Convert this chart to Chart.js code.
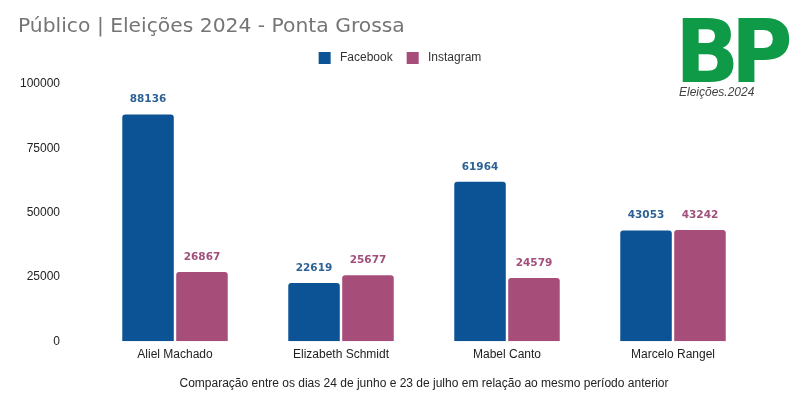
<!DOCTYPE html>
<html>
<head>
<meta charset="utf-8">
<script src="https://cdn.jsdelivr.net/npm/chart.js@4.4.1/dist/chart.umd.min.js"></script>
<style>
  html, body { margin: 0; padding: 0; background: #fff; }
  #wrap { position: relative; width: 804px; height: 407px; overflow: hidden; }
  #c { position: absolute; left: 0; top: 0; }
  #title { position: absolute; left: 18px; top: 13px; font-family: "DejaVu Sans", sans-serif; font-size: 20.3px; color: #757575; white-space: nowrap; }
  #logo { position: absolute; left: 675px; top: 8px; width: 129px; height: 95px; }
  #logoBP { position: absolute; left: 0; top: 0; font-family: "DejaVu Sans", sans-serif; font-weight: bold; font-size: 88px; line-height: 88px; color: #0f9a48; letter-spacing: -9px; transform: scaleX(0.96); transform-origin: left top; }
  #logoSub { position: absolute; left: 4px; top: 77px; font-family: "Liberation Sans", Arial, sans-serif; font-style: italic; font-size: 12px; color: #444; white-space: nowrap; }
</style>
</head>
<body>
<div id="wrap">
  <canvas id="c" width="804" height="407"></canvas>
  <div id="title">Público | Eleições 2024 - Ponta Grossa</div>
  <div id="logo"><div id="logoBP">BP</div><div id="logoSub">Eleições.2024</div></div>
</div>
<script>
const categories = ["Aliel Machado", "Elizabeth Schmidt", "Mabel Canto", "Marcelo Rangel"];
const facebook = [88136, 22619, 61964, 43053];
const instagram = [26867, 25677, 24579, 43242];
const seriesNames = ["Facebook", "Instagram"];
const yTicks = [0, 25000, 50000, 75000, 100000];
const xTitle = "Comparação entre os dias 24 de junho e 23 de julho em relação ao mesmo período anterior";

const blue = "#0b5394";
const pink = "#a64d79";
const labelColors = ["#2e6296", "#a14f7b"];

const valueLabels = {
  id: "valueLabels",
  afterDatasetsDraw(chart) {
    const ctx = chart.ctx;
    ctx.save();
    ctx.font = "bold 10.5px 'DejaVu Sans', Verdana, sans-serif";
    ctx.textAlign = "center";
    ctx.textBaseline = "middle";
    chart.data.datasets.forEach((ds, di) => {
      const meta = chart.getDatasetMeta(di);
      ctx.fillStyle = labelColors[di];
      meta.data.forEach((bar, i) => {
        ctx.fillText(String(ds.data[i]), bar.x, bar.y - 15);
      });
    });
    ctx.restore();
  }
};

const legendSpacer = {
  id: "legendSpacer",
  beforeInit(chart) {
    const lg = chart.legend;
    const fit = lg.fit;
    lg.fit = function () { fit.call(this); this.height += 10; };
  },
  afterLayout(chart) {
    // centre the legend on the whole page width
    chart.legend.left += 32;
  }
};

new Chart(document.getElementById("c"), {
  type: "bar",
  data: {
    labels: categories,
    datasets: [
      { label: seriesNames[0], data: facebook, backgroundColor: blue, borderRadius: { topLeft: 3, topRight: 3 }, borderSkipped: "bottom" },
      { label: seriesNames[1], data: instagram, backgroundColor: pink, borderRadius: { topLeft: 3, topRight: 3 }, borderSkipped: "bottom" }
    ]
  },
  options: {
    responsive: false,
    animation: false,
    devicePixelRatio: 1,
    layout: { padding: { left: 12, right: 48, top: 38, bottom: 16 } },
    datasets: { bar: { categoryPercentage: 0.65, barPercentage: 0.955 } },
    plugins: {
      legend: {
        position: "top",
        align: "center",
        labels: {
          boxWidth: 12, boxHeight: 12, padding: 14,
          color: "#333",
          font: { family: "'Liberation Sans', Arial, sans-serif", size: 12 },
          generateLabels(chart) {
            const items = Chart.defaults.plugins.legend.labels.generateLabels(chart);
            items.forEach(it => { it.text = " " + it.text; });
            return items;
          }
        }
      },
      tooltip: { enabled: false },
      title: { display: false }
    },
    scales: {
      x: {
        grid: { display: false, drawTicks: false },
        border: { display: false },
        ticks: { color: "#222", padding: 6, font: { family: "'Liberation Sans', Arial, sans-serif", size: 12 } },
        title: { display: true, text: xTitle, color: "#222", padding: { top: 9, bottom: 0 }, font: { family: "'Liberation Sans', Arial, sans-serif", size: 12 } }
      },
      y: {
        min: 0, max: 100000,
        afterBuildTicks(scale) { scale.ticks = yTicks.map(v => ({ value: v })); },
        afterFit(scale) { scale.width = 80; },
        grid: { display: false, drawTicks: false },
        border: { display: false },
        ticks: { color: "#222", padding: 32, callback: v => String(v), font: { family: "'Liberation Sans', Arial, sans-serif", size: 12 } }
      }
    }
  },
  plugins: [valueLabels, legendSpacer]
});
</script>
</body>
</html>
